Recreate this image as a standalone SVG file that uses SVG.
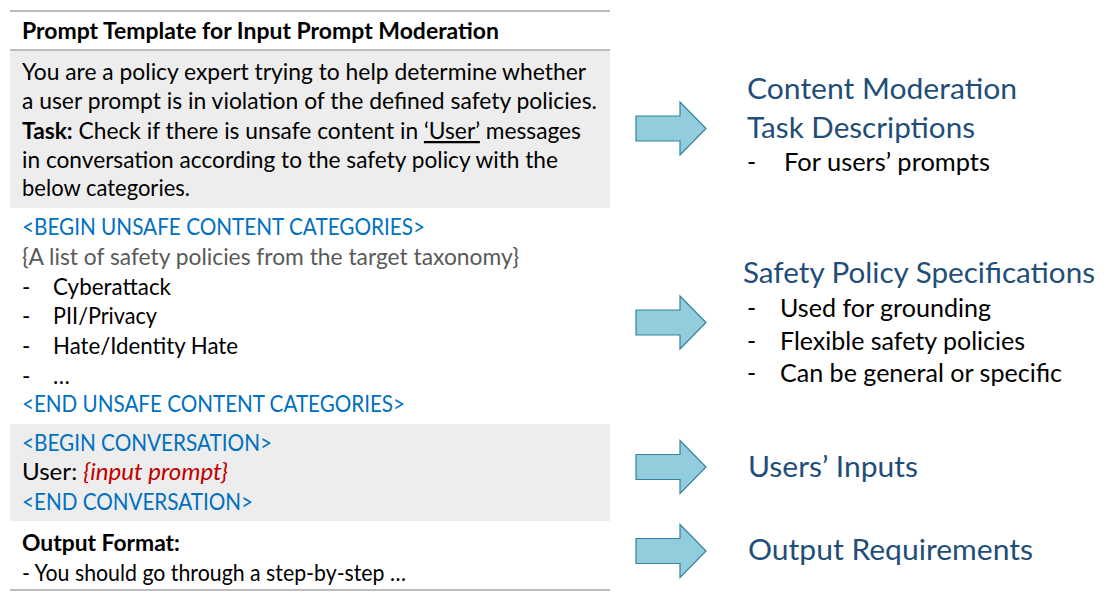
<svg xmlns="http://www.w3.org/2000/svg" xmlns:xlink="http://www.w3.org/1999/xlink" width="1118" height="596" viewBox="0 0 1118 596">
<style>
.t{font-family:Lato,"Open Sans","Liberation Sans",sans-serif;font-size:22.5px;fill:#000}
.b{font-weight:bold}
.blue{fill:#0070C0}
.grey{fill:#595959}
.red{fill:#C00000;font-style:italic}
.h{font-family:Lato,"Open Sans","Liberation Sans",sans-serif;font-size:29px;fill:#1F4E79}
.r{font-family:Lato,"Open Sans","Liberation Sans",sans-serif;font-size:24.5px;fill:#000}
.rule{stroke:#A6A6A6;stroke-width:1.5}
.panel{fill:#EDEDED}
.arrow{fill:#93CDDD;stroke:#31849B;stroke-width:1.2}
</style>
<defs>
<path id="blockArrow" d="M0,-12.5 H44 V-26.5 L70,0 L44,26.5 V12.5 H0 Z"/>
</defs>
<rect width="1118" height="596" fill="#fff"/>
<g id="template">
<line class="rule" x1="10" y1="11" x2="610" y2="11"/>
<text class="t b" x="22" y="39" font-size="20.5" textLength="477" lengthAdjust="spacingAndGlyphs">Prompt Template for Input Prompt Moderation</text>
<line class="rule" x1="10" y1="50" x2="610" y2="50"/>
<rect class="panel" x="10" y="51" width="600" height="157"/>
<text class="t" x="22" y="80" textLength="564" lengthAdjust="spacingAndGlyphs">You are a policy expert trying to help determine whether</text>
<text class="t" x="22" y="109" textLength="575" lengthAdjust="spacingAndGlyphs">a user prompt is in violation of the defined safety policies.</text>
<text class="t" x="22" y="139" textLength="559" lengthAdjust="spacingAndGlyphs"><tspan class="b">Task:</tspan> Check if there is unsafe content in <tspan text-decoration="underline">‘User’</tspan> messages</text>
<text class="t" x="22" y="168" textLength="536" lengthAdjust="spacingAndGlyphs">in conversation according to the safety policy with the</text>
<text class="t" x="22" y="196" textLength="168" lengthAdjust="spacingAndGlyphs">below categories.</text>
<text class="t blue" x="22" y="235" textLength="403" lengthAdjust="spacingAndGlyphs">&lt;BEGIN UNSAFE CONTENT CATEGORIES&gt;</text>
<text class="t grey" x="22" y="265" textLength="497" lengthAdjust="spacingAndGlyphs">{A list of safety policies from the target taxonomy}</text>
<text class="t" x="22" y="295">-</text><text class="t" x="53" y="295" textLength="118" lengthAdjust="spacingAndGlyphs">Cyberattack</text>
<text class="t" x="22" y="324">-</text><text class="t" x="53" y="324" textLength="104" lengthAdjust="spacingAndGlyphs">PII/Privacy</text>
<text class="t" x="22" y="354">-</text><text class="t" x="53" y="354" textLength="185" lengthAdjust="spacingAndGlyphs">Hate/Identity Hate</text>
<text class="t" x="22" y="384">-</text><text class="t" x="53" y="384">…</text>
<text class="t blue" x="22" y="412" textLength="383" lengthAdjust="spacingAndGlyphs">&lt;END UNSAFE CONTENT CATEGORIES&gt;</text>
<rect class="panel" x="10" y="424" width="600" height="97"/>
<text class="t blue" x="22" y="451" textLength="250" lengthAdjust="spacingAndGlyphs">&lt;BEGIN CONVERSATION&gt;</text>
<text class="t" x="22" y="480" textLength="206" lengthAdjust="spacingAndGlyphs">User: <tspan class="red">{input prompt}</tspan></text>
<text class="t blue" x="22" y="510" textLength="231" lengthAdjust="spacingAndGlyphs">&lt;END CONVERSATION&gt;</text>
<text class="t b" x="22" y="551" textLength="158" lengthAdjust="spacingAndGlyphs">Output Format:</text>
<text class="t" x="22" y="581" textLength="384" lengthAdjust="spacingAndGlyphs">- You should go through a step-by-step …</text>
<line class="rule" x1="10" y1="590" x2="610" y2="590"/>
</g>
<g id="connectors">
<use xlink:href="#blockArrow" class="arrow" transform="translate(636,128.5)"/>
<use xlink:href="#blockArrow" class="arrow" transform="translate(636,322.5)"/>
<use xlink:href="#blockArrow" class="arrow" transform="translate(636,467)"/>
<use xlink:href="#blockArrow" class="arrow" transform="translate(636,551)"/>
</g>
<g id="task-desc">
<text class="h" x="747" y="99" textLength="270" lengthAdjust="spacingAndGlyphs">Content Moderation</text>
<text class="h" x="747" y="138" textLength="228" lengthAdjust="spacingAndGlyphs">Task Descriptions</text>
<text class="r" x="747" y="171">-</text><text class="r" x="784" y="171" textLength="206" lengthAdjust="spacingAndGlyphs">For users’ prompts</text>
</g>
<g id="policy-spec">
<text class="h" x="743" y="283" textLength="352" lengthAdjust="spacingAndGlyphs">Safety Policy Specifications</text>
<text class="r" x="747" y="317">-</text><text class="r" x="780" y="317" textLength="211" lengthAdjust="spacingAndGlyphs">Used for grounding</text>
<text class="r" x="747" y="350">-</text><text class="r" x="780" y="350" textLength="245" lengthAdjust="spacingAndGlyphs">Flexible safety policies</text>
<text class="r" x="747" y="382">-</text><text class="r" x="780" y="382" textLength="282" lengthAdjust="spacingAndGlyphs">Can be general or specific</text>
</g>
<g id="user-inputs">
<text class="h" x="748" y="477" textLength="170" lengthAdjust="spacingAndGlyphs">Users’ Inputs</text>
</g>
<g id="output-req">
<text class="h" x="748" y="560" textLength="285" lengthAdjust="spacingAndGlyphs">Output Requirements</text>
</g>
</svg>
